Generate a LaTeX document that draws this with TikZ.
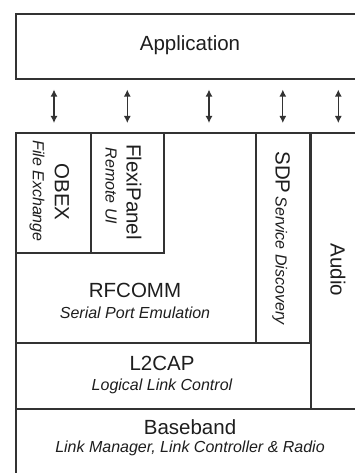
\documentclass[tikz,border=0pt]{standalone}
\usepackage{fontspec}
\setmainfont{Liberation Sans}
\usetikzlibrary{arrows.meta}
\definecolor{ink}{HTML}{1E1E1E}
\definecolor{rule}{HTML}{333333}
\tikzset{
  box/.style={draw=rule, line width=1.6pt, inner sep=0pt, anchor=north west},
  bigtxt/.style={text=ink, inner sep=0pt, font=\fontsize{20.5}{24}\selectfont},
  subtxt/.style={text=ink, inner sep=0pt, font=\fontsize{16}{19}\selectfont\itshape},
  biarrow/.style={draw=rule, line width=1.2pt,
    {Latex[length=7pt,width=7pt]}-{Latex[length=7pt,width=7pt]},
    shorten <=9pt, shorten >=10pt}
}
\begin{document}
\begin{tikzpicture}[x=1pt, y=-1pt]
  \useasboundingbox (0,0) rectangle (355,473);
  \fill[white] (0,0) rectangle (355,473);
  \clip (0,0) rectangle (355,473);

  % application layer
  \node[box, minimum width=350pt, minimum height=65pt] (app) at (15,13) {};
  \node[bigtxt] (appT) at (190,45) {Application};

  % protocol stack
  \node[box, minimum width=240pt, minimum height=210pt] (rfcomm) at (15,132) {};
  \node[box, minimum width=75pt, minimum height=120pt] (obex) at (15,132) {};
  \node[box, minimum width=73pt, minimum height=120pt] (flexi) at (90,132) {};
  \node[box, minimum width=54pt, minimum height=210pt] (sdp) at (255,132) {};
  \node[box, minimum width=55pt, minimum height=276pt] (audio) at (310,132) {};
  \node[box, minimum width=295pt, minimum height=66pt] (l2cap) at (15,342) {};
  \node[box, minimum width=350pt, minimum height=80pt] (base) at (15,408) {};
  \coordinate (rfTop) at (209,132);

  % labels
  \node[bigtxt, rotate=-90] (obexT) at (62,192) {OBEX};
  \node[subtxt, rotate=-90] (obexS) at (37,191) {File Exchange};
  \node[bigtxt, rotate=-90] (flexiT) at (134,192) {FlexiPanel};
  \node[subtxt, rotate=-90] (flexiS) at (111,186) {Remote UI};
  \node[bigtxt] (rfcommT) at (135,290) {RFCOMM};
  \node[subtxt] (rfcommS) at (135,313) {Serial Port Emulation};
  \node[rotate=-90, text=ink, inner sep=0pt] (sdpT) at (281,238)
    {{\fontsize{20.5}{24}\selectfont SDP} {\fontsize{16}{19}\selectfont\itshape Service Discovery}};
  \node[bigtxt, rotate=-90] (audioT) at (338,270) {Audio};
  \node[bigtxt] (l2capT) at (162,363) {L2CAP};
  \node[subtxt] (l2capS) at (162,386) {Logical Link Control};
  \node[bigtxt] (baseT) at (190,427) {Baseband};
  \node[subtxt] (baseS) at (190,448) {Link Manager, Link Controller \& Radio};

  % service access arrows
  \draw[biarrow] (obex.north -| 54,0) -- (app.south -| 54,0);
  \draw[biarrow] (flexi.north) -- (flexi.north |- app.south);
  \draw[biarrow] (rfTop) -- (rfTop |- app.south);
  \draw[biarrow] (sdp.north) -- (sdp.north |- app.south);
  \draw[biarrow] (audio.north) -- (audio.north |- app.south);
\end{tikzpicture}
\end{document}
